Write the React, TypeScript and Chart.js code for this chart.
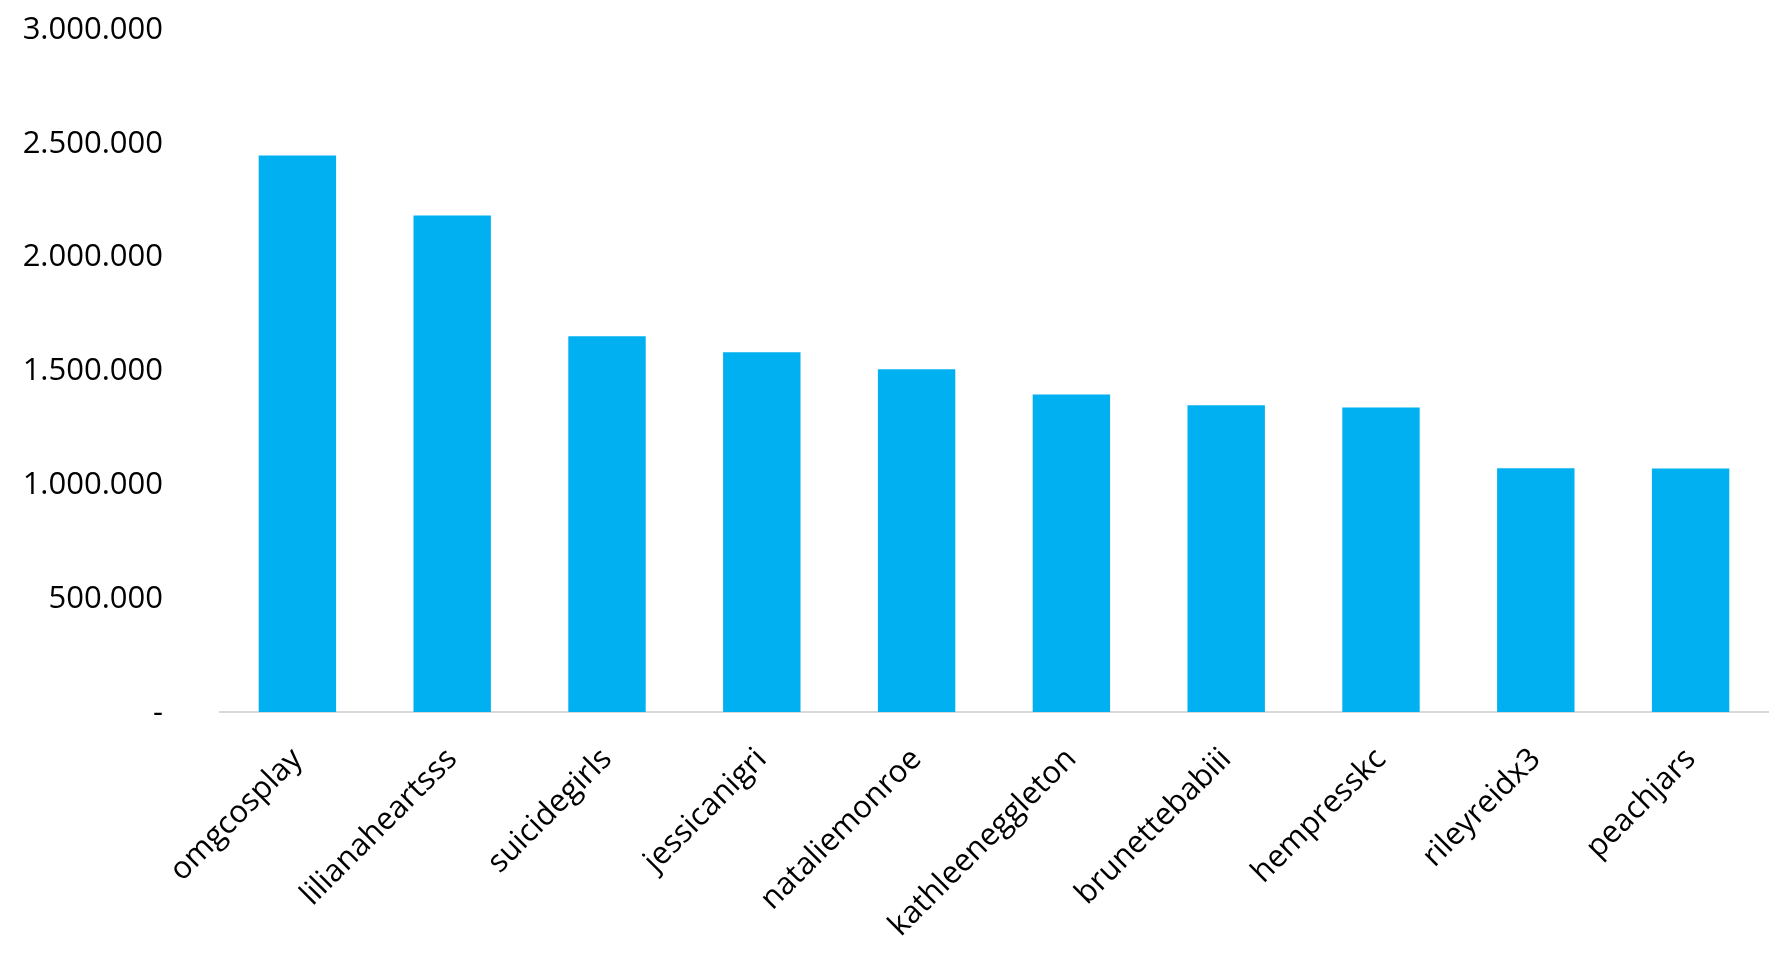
import { useEffect, useRef } from "react"
import { Chart, registerables } from "chart.js"

Chart.register(...registerables)

const accounts = [
  "omgcosplay",
  "lilianaheartsss",
  "suicidegirls",
  "jessicanigri",
  "nataliemonroe",
  "kathleeneggleton",
  "brunettebabiii",
  "hempresskc",
  "rileyreidx3",
  "peachjars",
]

const followers = [2444000, 2181000, 1650000, 1580000, 1505000, 1395000, 1347000, 1338000, 1071000, 1070000]

const yTicks = [0, 500000, 1000000, 1500000, 2000000, 2500000, 3000000]

// 1234567 -> "1.234.567", zero shown as a dash
function formatTick(v: number) {
  if (v === 0) return "-"
  return String(Math.round(v)).replace(/\B(?=(\d{3})+(?!\d))/g, ".")
}

function FollowersChart() {
  const chartRef = useRef<HTMLCanvasElement>(null)
  const chartInstance = useRef<Chart | null>(null)

  useEffect(() => {
    if (!chartRef.current) return
    if (chartInstance.current) chartInstance.current.destroy()

    const ctx = chartRef.current.getContext("2d")
    if (!ctx) return

    const font = { family: "'Open Sans'", size: 31 }

    chartInstance.current = new Chart(ctx, {
      type: "bar",
      data: {
        labels: accounts,
        datasets: [
          {
            label: "Followers",
            data: followers,
            backgroundColor: "#00b0f0",
            borderWidth: 0,
            barPercentage: 0.5,
            categoryPercentage: 1,
          },
        ],
      },
      options: {
        responsive: true,
        maintainAspectRatio: false,
        animation: false,
        layout: {
          padding: { top: 29, right: 24, left: 0, bottom: 0 },
        },
        plugins: {
          legend: { display: false },
          tooltip: { enabled: false },
        },
        scales: {
          x: {
            grid: { display: false },
            border: { display: true, color: "#d9d9d9", width: 2 },
            ticks: {
              color: "#000",
              font,
              minRotation: 45,
              maxRotation: 45,
              padding: 21,
              autoSkip: false,
            },
            afterFit: (scale) => {
              scale.height = 244
            },
          },
          y: {
            min: 0,
            max: 3000000,
            grid: { display: false },
            border: { display: false },
            afterBuildTicks: (scale) => {
              scale.ticks = yTicks.map((value) => ({ value }))
            },
            ticks: {
              color: "#000",
              font,
              padding: 49,
              labelOffset: 1,
              callback: (value) => formatTick(Number(value)),
            },
            afterFit: (scale) => {
              scale.width = 220
              // keep the label gap from pushing the plot area down
              scale.paddingTop = 0
              scale.paddingBottom = 0
            },
          },
        },
      },
    })

    return () => {
      if (chartInstance.current) {
        chartInstance.current.destroy()
        chartInstance.current = null
      }
    }
  }, [])

  return (
    <div style={{ position: "absolute", left: 0, top: 0, width: 1792, height: 956, background: "#fff" }}>
      <canvas ref={chartRef} />
    </div>
  )
}

export default function App() {
  return <FollowersChart />
}
